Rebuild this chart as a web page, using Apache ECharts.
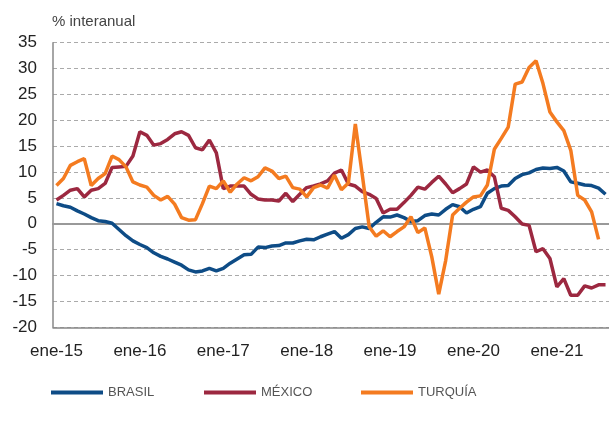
<!DOCTYPE html>
<html>
<head>
<meta charset="utf-8">
<script src="https://cdn.jsdelivr.net/npm/echarts@6/dist/echarts.min.js"></script>
<style>
  html, body { margin: 0; padding: 0; background: #fff; }
  #chart { width: 609px; height: 425px; }
</style>
</head>
<body>
<div id="chart"></div>
<script>
// meses ene-15 .. ago-21
const mesesAbr = ['ene', 'feb', 'mar', 'abr', 'may', 'jun', 'jul', 'ago', 'sep', 'oct', 'nov', 'dic'];
const anios = ['15', '16', '17', '18', '19', '20', '21'];
const nMeses = 80;

const brasil = [
  3.9, 3.5, 3.2, 2.5, 1.9, 1.2, 0.6, 0.45, 0.1, -1.1, -2.3, -3.3,
  -4.0, -4.6, -5.6, -6.3, -6.8, -7.4, -8.0, -8.9, -9.3, -9.1, -8.6, -9.1,
  -8.6, -7.6, -6.8, -6.0, -5.9, -4.5, -4.6, -4.3, -4.2, -3.7, -3.7, -3.3,
  -3.0, -3.1, -2.5, -2.0, -1.5, -2.8, -2.1, -0.9, -0.6, -0.9, 0.3, 1.35,
  1.3, 1.7, 1.2, 0.45, 0.6, 1.6, 1.9, 1.7, 2.8, 3.7, 3.3, 2.1,
  2.8, 3.3, 5.9, 6.8, 7.3, 7.4, 8.75, 9.5, 9.85, 10.5, 10.8, 10.7,
  10.9, 10.2, 8.1, 7.85, 7.5, 7.4, 6.9, 5.7
];

const mexico = [
  4.6, 5.5, 6.5, 6.8, 5.2, 6.5, 6.8, 7.8, 10.9, 11.0, 11.1, 13.1,
  17.8, 17.1, 15.2, 15.5, 16.3, 17.4, 17.8, 17.1, 14.7, 14.3, 16.2, 13.7,
  6.8, 7.3, 7.3, 7.3, 5.7, 4.8, 4.6, 4.6, 4.4, 5.9, 4.3, 5.7,
  7.0, 7.3, 7.7, 8.3, 9.8, 10.4, 7.7, 7.3, 6.2, 5.7, 4.9, 2.1,
  2.8, 2.8, 4.1, 5.5, 7.1, 6.7, 8.0, 9.2, 7.7, 6.0, 6.8, 7.7,
  11.0, 10.0, 10.4, 9.1, 3.0, 2.6, 1.35, -0.05, -0.3, -5.4, -4.8, -6.7,
  -12.2, -10.6, -13.8, -13.8, -12.0, -12.4, -11.8, -11.8
];

const turquia = [
  7.4, 8.75, 11.3, 12.0, 12.6, 7.4, 8.75, 9.7, 13.1, 12.4, 11.0, 8.1,
  7.5, 7.1, 5.5, 4.6, 5.3, 3.8, 1.2, 0.7, 0.8, 3.9, 7.3, 6.8,
  8.3, 6.1, 7.7, 8.9, 8.3, 9.1, 10.8, 10.2, 8.75, 9.2, 7.0, 6.7,
  5.2, 7.0, 7.5, 6.9, 9.4, 6.6, 7.9, 19.3, 9.5, -0.6, -2.4, -1.35,
  -2.5, -1.5, -0.6, 1.35, -1.7, -0.8, -6.4, -13.6, -7.1, 1.7, 3.0, 4.2,
  5.2, 5.4, 7.5, 14.4, 16.5, 18.7, 27.0, 27.4, 30.2, 31.5, 27.1, 21.6,
  19.7, 18.0, 14.2, 5.5, 4.6, 2.3, -3.0
];

const nombres = ['BRASIL', 'MÉXICO', 'TURQUÍA'];
const colores = ['#0e4c86', '#9c2840', '#f47b20'];
const legendLeft = [46, 199, 356];

let categorias = [];
for (let i = 0; i < nMeses; i++) {
  categorias.push(mesesAbr[i % 12] + '-' + anios[Math.floor(i / 12)]);
}

var myChart = echarts.init(document.getElementById('chart'));

let option = {
  animation: false,
  textStyle: { fontFamily: 'Liberation Sans, Arial, sans-serif' },
  title: {
    text: '% interanual',
    left: 47,
    top: 9,
    textStyle: { fontSize: 15, fontWeight: 'normal', color: '#444' }
  },
  grid: { left: 53, right: 0, top: 42.7, bottom: 97.7 },
  legend: nombres.map((n, k) => ({
    left: legendLeft[k],
    top: 381,
    icon: 'rect',
    itemWidth: 52,
    itemHeight: 4,
    textStyle: { fontSize: 13, color: '#555' },
    data: [n]
  })),
  xAxis: [
    {
      type: 'category',
      data: categorias,
      boundaryGap: true,
      axisLine: { onZero: false, lineStyle: { color: '#888', width: 1.5 } },
      axisTick: { inside: true, length: 5, interval: 11, lineStyle: { color: '#888' } },
      axisLabel: { interval: 11, fontSize: 17, color: '#222', margin: 16 }
    },
    {
      type: 'category',
      data: categorias,
      position: 'bottom',
      axisLine: { onZero: true, lineStyle: { color: '#999', width: 2 } },
      axisTick: { show: false },
      axisLabel: { show: false },
      splitLine: { show: false }
    }
  ],
  yAxis: {
    type: 'value',
    min: -20,
    max: 35,
    interval: 5,
    axisLine: { show: true, lineStyle: { color: '#888', width: 1.5 } },
    axisTick: { show: false },
    axisLabel: { fontSize: 17, color: '#222', margin: 16 },
    splitLine: { lineStyle: { color: '#aaa', type: [4, 3], width: 1 } }
  },
  series: [
    { name: 'BRASIL', type: 'line', data: brasil },
    { name: 'MÉXICO', type: 'line', data: mexico },
    { name: 'TURQUÍA', type: 'line', data: turquia }
  ].map((s, k) => Object.assign(s, {
    showSymbol: false,
    symbol: 'none',
    lineStyle: { width: 3.5, color: colores[k] },
    itemStyle: { color: colores[k] }
  }))
};

option && myChart.setOption(option);

window.onresize = function () {
  myChart.resize();
};
</script>
</body>
</html>
